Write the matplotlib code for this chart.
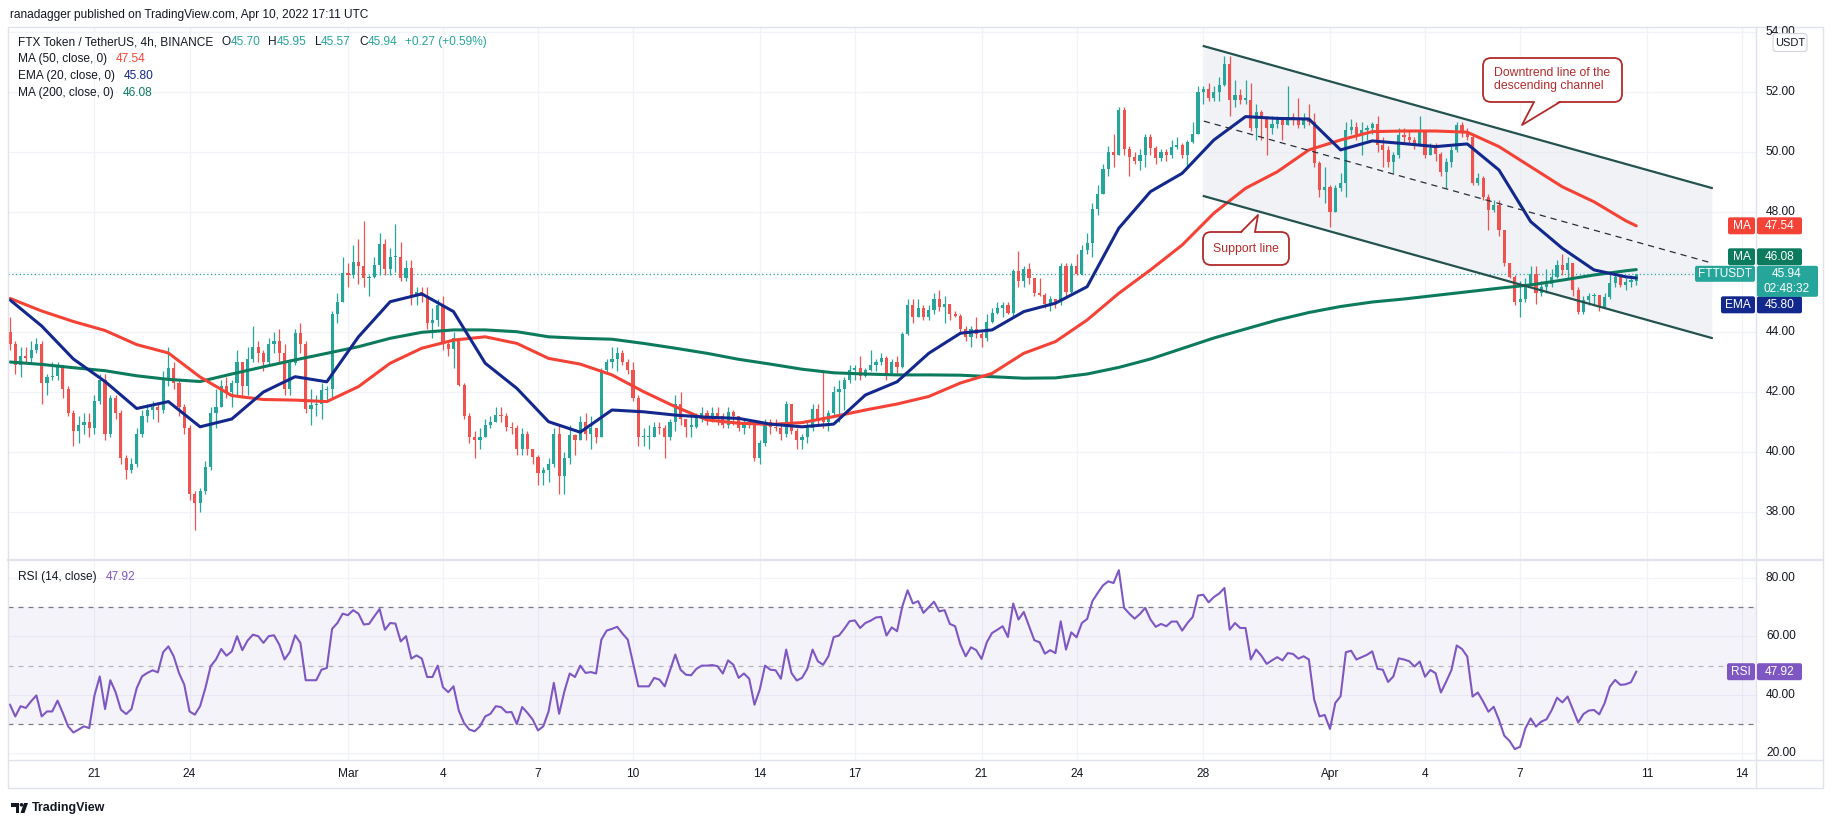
import numpy as np
import matplotlib
matplotlib.use("Agg")
import matplotlib.pyplot as plt
from matplotlib.patches import FancyBboxPatch, Polygon, Rectangle, Circle

plt.rcParams['font.family'] = ['Liberation Sans', 'DejaVu Sans']

W, H = 1834, 823

# ---------------- data (FTT/USDT 4h) ----------------
first_open = 44.0
closes = [
    43.6, 42.9, 43.2, 43.15, 43.4, 43.6, 42.3, 42.5, 42.55, 42.9,
    42.1, 41.3, 40.7, 40.9, 41.0, 40.8, 41.7, 42.4, 40.6, 41.8,
    41.3, 39.8, 39.4, 39.6, 40.6, 41.2, 41.4, 41.5, 41.4, 42.4,
    42.8, 42.3, 41.5, 40.8, 38.6, 38.3, 38.7, 39.5, 41.3, 41.5,
    42.2, 42.0, 42.3, 43.0, 42.2, 43.1, 43.5, 43.3, 43.0, 43.6,
    43.7, 43.3, 42.1, 42.96, 43.96, 43.6, 41.45, 41.57, 41.6, 42.07,
    42.1, 44.6, 45.0, 45.96, 45.9, 46.35, 46.2, 45.8, 45.85, 46.25,
    46.95, 46.1, 46.5, 46.5, 45.8, 46.15, 45.2, 45.35, 45.2, 44.3,
    44.4, 44.9, 43.6, 43.45, 43.8, 42.25, 41.2, 40.5, 40.4, 40.5,
    40.9, 41.0, 41.25, 41.2, 40.85, 40.8, 40.1, 40.6, 40.1, 39.85,
    39.3, 39.4, 39.6, 40.6, 39.2, 39.8, 40.57, 40.4, 41.0, 40.6,
    40.8, 40.5, 42.73, 43.0, 43.1, 43.3, 43.0, 42.75, 41.8, 40.5,
    40.5, 40.5, 40.85, 40.8, 40.5, 41.0, 41.6, 41.1, 40.85, 40.85,
    41.2, 41.3, 41.2, 41.3, 41.2, 40.9, 41.35, 41.2, 40.8, 41.0,
    40.9, 39.8, 40.3, 41.0, 40.85, 40.8, 40.6, 41.6, 40.7, 40.4,
    40.5, 40.8, 41.45, 41.1, 41.0, 41.3, 42.0, 42.1, 42.4, 42.73,
    42.8, 42.55, 42.75, 42.9, 43.0, 43.15, 42.6, 43.0, 42.85, 43.95,
    44.9, 44.5, 44.8, 44.5, 44.75, 45.1, 44.85, 44.95, 44.6, 44.55,
    44.1, 43.85, 44.1, 43.95, 43.8, 44.35, 44.65, 44.8, 44.9, 44.65,
    46.05, 45.7, 46.1, 45.8, 45.3, 45.25, 44.95, 45.1, 45.0, 46.2,
    45.35, 46.2, 45.95, 46.75, 46.98, 48.1, 48.6, 49.45, 50.0, 49.9,
    51.4, 50.1, 49.85, 49.7, 49.9, 50.5, 50.12, 49.79, 50.0, 49.9,
    50.18, 50.25, 49.9, 50.35, 50.6, 52.0, 52.1, 51.8, 52.0, 52.23,
    52.92, 51.73, 51.9, 51.75, 51.75, 50.79, 51.32, 51.12, 50.8, 50.95,
    51.07, 50.9, 51.18, 51.07, 50.9, 51.12, 51.0, 49.62, 48.73, 48.84,
    48.0, 48.79, 48.96, 50.73, 50.84, 50.57, 50.73, 50.8, 50.95, 50.23,
    50.07, 49.68, 49.9, 50.57, 50.5, 50.4, 50.23, 50.68, 49.9, 50.12,
    49.95, 49.34, 49.68, 50.07, 50.9, 50.68, 50.51, 48.96, 49.12, 48.51,
    48.07, 48.23, 47.4, 46.29, 45.84, 45.0, 45.1, 45.6, 45.95, 45.29,
    45.49, 45.6, 45.85, 46.23, 46.07, 46.3, 45.4, 44.68, 45.07, 45.2,
    45.25, 44.84, 45.18, 45.64, 45.84, 45.57, 45.68, 45.70, 45.94,
]
highs = [
    44.5, 43.7, 43.5, 43.5, 43.7, 43.8, 43.7, 42.6, 43.0, 43.0,
    42.9, 42.2, 41.4, 41.2, 41.3, 41.3, 41.9, 42.6, 42.6, 41.9,
    41.9, 41.4, 39.9, 39.8, 40.8, 41.4, 41.6, 41.7, 41.6, 42.7,
    43.5, 43.0, 42.4, 41.6, 40.9, 38.7, 38.8, 39.7, 41.5, 42.1,
    42.4, 42.5, 42.4, 43.4, 43.0, 43.5, 44.2, 43.7, 43.4, 43.8,
    44.0, 44.1, 43.6, 43.1, 44.1, 44.3, 43.7, 42.1, 41.9, 42.3,
    42.2, 44.7, 45.3, 46.5, 46.3, 46.9, 47.1, 47.7, 45.9, 46.5,
    47.3, 47.1, 46.8, 47.6, 47.0, 46.4, 46.4, 45.5, 45.5, 45.5,
    44.8, 45.1, 45.2, 43.7, 44.0, 43.8, 42.3, 41.3, 40.7, 40.8,
    41.1, 41.2, 41.5, 41.5, 41.3, 41.0, 40.9, 40.8, 40.7, 40.1,
    39.9, 39.5, 39.8, 40.8, 40.9, 40.0, 40.9, 40.6, 41.2, 41.3,
    41.2, 40.8, 42.8, 43.1, 43.5, 43.5, 43.4, 43.1, 43.0, 41.9,
    40.8, 40.9, 41.0, 41.0, 40.9, 41.1, 41.9, 42.0, 41.1, 41.2,
    41.3, 41.5, 41.4, 41.5, 41.5, 41.3, 41.5, 41.4, 41.2, 41.1,
    41.1, 41.0, 40.4, 41.1, 41.1, 41.1, 41.0, 41.7, 41.6, 40.8,
    40.6, 41.0, 41.6, 41.6, 42.7, 41.4, 42.2, 42.4, 42.5, 42.9,
    42.9, 43.2, 42.8, 43.4, 43.1, 43.3, 43.2, 43.1, 43.2, 44.0,
    45.1, 45.1, 45.1, 44.9, 44.9, 45.3, 45.4, 45.2, 44.9, 44.7,
    44.6, 44.2, 44.2, 44.5, 44.0, 44.6, 44.8, 45.0, 45.0, 45.0,
    46.1, 46.7, 46.2, 46.3, 45.8, 45.8, 45.3, 45.2, 45.1, 46.3,
    46.3, 46.3, 46.6, 46.9, 47.3, 48.3, 48.9, 49.6, 50.2, 50.6,
    51.5, 51.5, 50.2, 50.0, 50.1, 50.6, 50.6, 50.2, 50.1, 50.1,
    50.4, 50.5, 50.3, 50.4, 51.0, 52.2, 52.2, 52.3, 52.2, 52.5,
    53.2, 53.2, 52.4, 52.1, 52.4, 52.3, 51.6, 51.4, 51.2, 51.2,
    51.2, 51.1, 52.2, 51.3, 51.8, 51.3, 51.6, 51.3, 49.7, 49.5,
    48.9, 48.9, 49.3, 51.0, 51.1, 51.0, 51.0, 50.9, 51.0, 51.2,
    50.5, 50.2, 50.0, 50.8, 50.8, 50.7, 50.5, 51.2, 50.7, 50.3,
    50.3, 50.0, 49.8, 50.2, 51.0, 51.0, 50.8, 50.6, 49.3, 49.2,
    48.6, 48.4, 48.4, 47.4, 46.3, 45.9, 45.7, 45.8, 46.2, 46.2,
    45.7, 46.1, 46.1, 46.4, 46.6, 46.5, 46.3, 45.5, 45.2, 45.3,
    45.3, 45.1, 45.3, 46.0, 46.0, 45.9, 45.8, 45.9, 45.95,
]
lows = [
    43.4, 42.6, 42.5, 43.0, 43.0, 43.3, 41.6, 41.9, 42.4, 42.4,
    41.8, 41.2, 40.2, 40.3, 40.6, 40.5, 40.6, 41.6, 40.4, 40.5,
    41.1, 39.6, 39.1, 39.3, 39.5, 40.5, 41.0, 41.1, 41.0, 41.3,
    42.2, 42.1, 41.2, 40.6, 38.4, 37.4, 38.0, 38.6, 39.4, 40.8,
    41.5, 41.8, 41.5, 41.9, 41.8, 41.9, 43.0, 43.0, 42.7, 42.9,
    43.3, 43.0, 41.9, 41.9, 42.9, 43.3, 41.3, 40.9, 41.2, 41.1,
    41.7, 41.8, 44.3, 45.0, 45.5, 45.8, 45.6, 45.5, 45.2, 45.8,
    45.9, 45.9, 45.9, 46.0, 45.7, 45.7, 44.9, 44.9, 45.0, 44.1,
    43.8, 44.2, 43.4, 43.2, 42.8, 42.2, 41.1, 40.3, 39.8, 40.1,
    40.5, 40.8, 41.0, 41.0, 40.7, 40.6, 39.9, 39.9, 39.9, 39.6,
    38.9, 38.9, 39.0, 39.5, 38.6, 38.6, 39.6, 39.9, 40.5, 40.4,
    40.1, 40.3, 40.5, 42.6, 42.8, 42.7, 42.9, 42.6, 41.7, 40.2,
    40.2, 40.1, 40.5, 40.6, 39.8, 40.4, 40.7, 40.9, 40.5, 40.5,
    40.8, 41.0, 40.9, 41.0, 40.9, 40.8, 40.8, 40.9, 40.7, 40.6,
    40.8, 39.7, 39.6, 40.2, 40.6, 40.7, 40.4, 40.5, 40.6, 40.1,
    40.1, 40.3, 40.7, 40.9, 40.8, 40.7, 41.2, 41.0, 41.4, 42.3,
    42.4, 42.4, 42.5, 42.7, 42.7, 42.9, 42.4, 42.6, 42.6, 42.8,
    43.9, 44.3, 44.5, 44.4, 44.4, 44.6, 44.7, 44.3, 44.4, 44.5,
    44.0, 43.7, 43.5, 43.8, 43.5, 43.7, 44.3, 44.6, 44.5, 44.6,
    44.5, 45.5, 45.5, 45.6, 45.2, 45.2, 44.8, 44.7, 44.8, 44.9,
    45.2, 45.3, 45.9, 45.9, 46.6, 46.5, 47.9, 48.6, 49.2, 49.5,
    49.9, 49.9, 49.2, 49.6, 49.4, 49.5, 49.9, 49.6, 49.7, 49.7,
    49.8, 50.1, 49.8, 49.5, 50.3, 50.6, 51.6, 51.7, 51.7, 51.7,
    52.2, 51.2, 51.5, 51.6, 51.6, 50.7, 50.4, 50.4, 49.9, 50.6,
    50.8, 50.4, 50.9, 50.9, 50.8, 50.8, 50.9, 49.5, 48.5, 48.3,
    47.5, 48.0, 48.7, 48.5, 50.6, 50.4, 49.9, 50.4, 50.6, 50.0,
    49.5, 49.5, 49.3, 49.8, 50.3, 50.3, 50.1, 50.2, 49.8, 49.9,
    49.7, 49.2, 48.8, 49.5, 50.0, 50.5, 50.4, 48.9, 48.9, 48.4,
    47.4, 48.0, 47.2, 46.2, 45.8, 44.9, 44.5, 45.0, 45.6, 44.95,
    45.2, 45.3, 45.5, 45.8, 45.9, 45.8, 45.2, 44.6, 44.6, 44.9,
    44.9, 44.7, 44.8, 45.1, 45.5, 45.5, 45.4, 45.5, 45.57,
]

# moving averages, read every 6 bars (one per day) plus the last bar
ma_bars = list(range(0, 307, 6)) + [308]
ema20 = [
    45.07, 44.2, 43.1, 42.35, 41.45, 41.68, 40.84, 41.1, 42.0,
    42.51, 42.34, 43.84, 45.01, 45.27, 44.68, 42.96, 42.12, 41.01,
    40.66, 41.4, 41.34, 41.23, 41.16, 41.12, 40.93, 40.84, 40.93,
    41.9, 42.34, 43.29, 43.96, 44.07, 44.68, 44.96, 45.51, 47.46,
    48.68, 49.29, 50.4, 51.18, 51.12, 51.1, 50.07, 50.37, 50.28,
    50.18, 50.27, 49.4, 47.68, 46.79, 46.07, 45.84, 45.80,
]
ma50 = [
    45.12, 44.7, 44.35, 44.05, 43.58, 43.3, 42.5, 41.88, 41.75,
    41.73, 41.68, 42.18, 42.96, 43.46, 43.73, 43.84, 43.62, 43.12,
    42.93, 42.57, 42.01, 41.51, 41.07, 40.96, 40.92, 40.98, 41.18,
    41.4, 41.6, 41.85, 42.3, 42.62, 43.29, 43.68, 44.4, 45.29,
    46.07, 46.9, 47.96, 48.79, 49.34, 50.07, 50.4, 50.68, 50.7,
    50.7, 50.66, 50.18, 49.51, 48.84, 48.34, 47.71, 47.54,
]
ma200 = [
    43.0, 42.92, 42.81, 42.71, 42.54, 42.42, 42.35, 42.6, 42.84,
    43.07, 43.29, 43.51, 43.79, 43.99, 44.07, 44.07, 44.01, 43.84,
    43.79, 43.76, 43.62, 43.46, 43.29, 43.09, 42.93, 42.76, 42.64,
    42.6, 42.57, 42.57, 42.56, 42.51, 42.46, 42.47, 42.6, 42.82,
    43.1, 43.45, 43.8, 44.1, 44.4, 44.65, 44.85, 45.0, 45.1,
    45.22, 45.34, 45.46, 45.57, 45.73, 45.9, 46.04, 46.08,
]
rsi = [
    36.6, 32.6, 36.1, 35.5, 37.8, 39.8, 32.6, 34.3, 34.3, 38.0,
    33.8, 29.2, 27.1, 28.1, 29.2, 28.6, 39.8, 46.3, 35.1, 45.0,
    40.9, 34.9, 33.4, 35.1, 42.3, 46.3, 47.5, 48.4, 47.7, 54.6,
    56.6, 53.2, 47.5, 43.5, 34.3, 33.2, 36.1, 42.3, 49.8, 52.1,
    55.7, 53.4, 54.9, 60.1, 55.3, 58.6, 60.6, 60.1, 57.8, 60.1,
    60.4, 57.2, 52.1, 54.7, 60.4, 57.8, 45.0, 45.0, 45.0, 48.6,
    49.2, 62.6, 64.6, 67.8, 67.3, 69.0, 67.8, 64.1, 64.3, 66.9,
    69.4, 62.3, 64.6, 64.4, 58.3, 60.1, 52.4, 53.5, 52.4, 46.1,
    46.1, 50.0, 42.6, 40.9, 42.9, 34.6, 30.3, 28.1, 27.5, 29.2,
    32.6, 33.5, 36.1, 35.8, 34.0, 34.1, 30.0, 35.8, 33.8, 31.5,
    27.8, 29.2, 34.3, 44.1, 33.5, 41.2, 47.3, 46.1, 50.0, 47.5,
    47.8, 47.3, 58.9, 62.0, 62.6, 63.3, 61.0, 58.9, 50.9, 42.9,
    42.9, 42.9, 45.8, 45.2, 42.9, 48.3, 53.8, 48.6, 46.9, 46.7,
    48.9, 50.0, 50.0, 50.2, 49.8, 47.3, 51.8, 50.3, 45.8, 47.3,
    45.5, 36.6, 41.8, 50.0, 48.6, 48.4, 45.5, 55.5, 47.5, 44.9,
    45.8, 48.9, 55.5, 51.5, 50.3, 53.2, 59.8, 60.3, 62.6, 65.2,
    65.5, 62.9, 64.6, 65.4, 66.5, 66.7, 60.3, 63.1, 61.8, 70.3,
    75.8, 71.3, 72.1, 68.1, 70.0, 71.9, 68.6, 69.0, 64.3, 63.5,
    57.2, 53.2, 56.3, 55.3, 52.3, 58.0, 61.2, 62.3, 63.5, 59.8,
    71.3, 65.8, 68.4, 63.5, 58.7, 58.0, 54.1, 55.3, 54.3, 65.2,
    55.5, 61.4, 59.7, 64.6, 66.0, 72.1, 74.9, 77.5, 78.9, 78.3,
    82.7, 69.8, 67.8, 66.1, 67.7, 69.8, 65.8, 63.3, 64.3, 63.5,
    65.1, 65.1, 62.0, 64.6, 66.7, 74.0, 74.3, 71.7, 73.5, 74.7,
    76.6, 62.3, 64.6, 62.9, 62.9, 52.1, 55.5, 53.4, 50.6, 51.8,
    52.9, 51.8, 54.3, 54.0, 52.4, 53.2, 52.1, 38.4, 32.6, 33.1,
    28.3, 37.2, 39.5, 54.6, 55.1, 52.1, 52.9, 53.7, 54.9, 48.9,
    48.6, 44.4, 46.3, 52.5, 52.1, 51.5, 49.7, 51.4, 46.2, 48.5,
    47.4, 40.8, 44.5, 48.5, 56.9, 55.7, 53.1, 39.4, 40.8, 37.7,
    34.2, 35.9, 31.4, 26.0, 24.2, 21.4, 22.2, 28.5, 31.9, 29.1,
    30.8, 31.6, 34.8, 39.0, 37.4, 39.4, 35.0, 30.5, 33.4, 34.6,
    34.8, 33.3, 37.1, 42.8, 45.1, 43.4, 43.6, 44.3, 47.92,
]

date_bars = [16, 34, 64, 82, 100, 118, 142, 160, 184, 202, 226, 250, 268, 286, 310, 328]
date_labels = ['21', '24', 'Mar', '4', '7', '10', '14', '17', '21', '24', '28',
               'Apr', '4', '7', '11', '14']
price_ticks = [38, 40, 42, 44, 46, 48, 50, 52, 54]
rsi_ticks = [20, 40, 60, 80]

# descending channel drawing (bar index, price)
channel_bars = [226.1, 322.3]
channel_top = [53.53, 48.8]
channel_mid = [51.03, 46.3]
channel_bot = [48.53, 43.8]

header = 'ranadagger published on TradingView.com, Apr 10, 2022 17:11 UTC'
symbol = 'FTX Token / TetherUS, 4h, BINANCE'
ohlc = [('O', '45.70'), ('H', '45.95'), ('L', '45.57'), ('C', '45.94')]
change = '+0.27 (+0.59%)'
countdown = '02:48:32'

# ---------------- colours ----------------
GREEN = '#26a69a'
RED = '#ef5350'
C_MA50 = '#f44336'
C_EMA = '#13288c'
C_MA200 = '#0c7b5d'
C_RSI = '#7e57c2'
GRID = '#f0f3fa'
BORDER = '#e0e3eb'
TXT = '#131722'
CALL = '#b22b2b'

fig = plt.figure(figsize=(W / 100, H / 100), dpi=100)
fig.patch.set_facecolor('white')


def frac(x0, y0, x1, y1):
    return [x0 / W, 1 - y1 / H, (x1 - x0) / W, (y1 - y0) / H]


ax = fig.add_axes(frac(8, 27, 1756, 560))
ax2 = fig.add_axes(frac(8, 560, 1756, 760))
for a in (ax, ax2):
    a.set_xlim(-0.38, 330.68)
    a.axis('off')
    for b in date_bars:
        a.axvline(b, color=GRID, lw=0.9, zorder=0)
ax.set_ylim(36.4, 54.167)
ax2.set_ylim(17.66, 86.2)
for p in price_ticks:
    ax.axhline(p, color=GRID, lw=0.9, zorder=0)
for r in rsi_ticks:
    ax2.axhline(r, color=GRID, lw=0.9, zorder=0)

# channel
cx = np.array(channel_bars)
ax.fill_between(cx, channel_bot, channel_top, color='#dfe4ec', alpha=0.45, lw=0, zorder=1)

# candles
c = np.array(closes)
o = np.array([first_open] + closes[:-1])
hi = np.maximum(np.array(highs), np.maximum(o, c))
lo = np.minimum(np.array(lows), np.minimum(o, c))
x = np.arange(len(c))
cols = np.where(c >= o, GREEN, RED)
ax.vlines(x, lo, hi, colors=cols, lw=0.9, zorder=3)
ax.bar(x, np.maximum(np.abs(c - o), 0.04), bottom=np.minimum(o, c), width=0.6,
       color=cols, lw=0, zorder=3)

# moving averages
ax.plot(ma_bars, ma200, color=C_MA200, lw=2.2, zorder=4, solid_capstyle='round')
ax.plot(ma_bars, ma50, color=C_MA50, lw=2.2, zorder=4, solid_capstyle='round')
ax.plot(ma_bars, ema20, color=C_EMA, lw=2.2, zorder=4, solid_capstyle='round')

ax.plot(cx, channel_top, color='#24524e', lw=1.6, zorder=5)
ax.plot(cx, channel_bot, color='#24524e', lw=1.6, zorder=5)
ax.plot(cx, channel_mid, color='#2a2e39', lw=0.9, ls=(0, (5, 4)), zorder=5)

ax.axhline(closes[-1], color=GREEN, lw=0.9, ls=(0, (1, 2)), zorder=2)

# RSI pane
ax2.axhspan(30, 70, color=C_RSI, alpha=0.07, lw=0, zorder=1)
for lvl, al in ((70, 1.0), (50, 0.5), (30, 1.0)):
    ax2.axhline(lvl, color='#787b86', alpha=al, lw=0.9, ls=(0, (4, 4)), zorder=2)
ax2.plot(np.arange(len(rsi)), rsi, color=C_RSI, lw=1.5, zorder=4)

# ---------------- overlay in pixel space ----------------
ov = fig.add_axes([0, 0, 1, 1], zorder=10)
ov.set_xlim(0, W)
ov.set_ylim(H, 0)
ov.axis('off')
renderer = fig.canvas.get_renderer()


def ypx(a, v):
    return H - a.transData.transform((0, v))[1]


def xpx(a, b):
    return a.transData.transform((b, 0))[0]


# frame
ov.add_patch(Rectangle((8, 27), 1815, 761, fill=False, ec=BORDER, lw=1.0, zorder=1))
ov.plot([1756, 1756], [27, 788], color=BORDER, lw=1.0, zorder=1)
ov.plot([8, 1823], [560, 560], color=BORDER, lw=1.6, zorder=1)
ov.plot([8, 1823], [760, 760], color=BORDER, lw=1.0, zorder=1)

FS = 8.6


def box(x0, y0, w, h, color):
    ov.add_patch(FancyBboxPatch((x0, y0), w, h, boxstyle='round,pad=0,rounding_size=2',
                                fc=color, ec='none', zorder=5))


covered = []  # vertical spans of the price-scale tags (tick labels hidden beneath them)


def tag(yc, left, val, color, lx0, vx1=1802):
    box(lx0, yc - 8.5, 1755 - lx0, 17, color)
    box(1757, yc - 8.5, vx1 - 1757, 17, color)
    covered.append((yc - 8.5, yc + 8.5))
    ov.text((lx0 + 1755) / 2, yc + 0.5, left, ha='center', va='center', fontsize=FS,
            color='white', zorder=6)
    ov.text((1757 + vx1) / 2, yc + 0.5, val, ha='center', va='center', fontsize=FS,
            color='white', zorder=6)


y_ftt = ypx(ax, closes[-1])
tag(ypx(ax, ma50[-1]), 'MA', f'{ma50[-1]:.2f}', C_MA50, 1728)
tag(y_ftt - 17, 'MA', f'{ma200[-1]:.2f}', C_MA200, 1728)
tag(y_ftt + 31, 'EMA', f'{ema20[-1]:.2f}', C_EMA, 1721)
box(1695, y_ftt - 8, 60, 16, GREEN)
box(1757, y_ftt - 8, 61, 31, GREEN)
covered.append((y_ftt - 8, y_ftt + 23))
ov.text(1725, y_ftt + 0.5, 'FTTUSDT', ha='center', va='center', fontsize=FS, color='white', zorder=6)
ov.text(1787, y_ftt + 0.5, f'{closes[-1]:.2f}', ha='center', va='center', fontsize=FS,
        color='white', zorder=6)
ov.text(1787, y_ftt + 15, countdown, ha='center', va='center', fontsize=FS, color='white', zorder=6)
y_rsi = ypx(ax2, rsi[-1])
tag(y_rsi, 'RSI', f'{rsi[-1]:.2f}', C_RSI, 1727)


def hidden(y):
    return any(y0 - 2 <= y <= y1 + 2 for y0, y1 in covered)


for p in price_ticks:
    yy = ypx(ax, p)
    if not hidden(yy):
        ov.text(1766, yy, f'{p:.2f}', va='center', ha='left', fontsize=FS, color=TXT, zorder=2)
for r in rsi_ticks:
    yy = ypx(ax2, r)
    if not hidden(yy):
        ov.text(1766, yy, f'{r:.2f}', va='center', ha='left', fontsize=FS, color=TXT, zorder=2)
for b, lab in zip(date_bars, date_labels):
    ov.text(xpx(ax, b), 774, lab, va='center', ha='center', fontsize=FS, color=TXT, zorder=2)

ov.add_patch(FancyBboxPatch((1773, 33.5), 34, 18, boxstyle='round,pad=0,rounding_size=3',
                            fc='white', ec='#d1d4dc', lw=0.8, zorder=5))
ov.text(1790, 42.8, 'USDT', ha='center', va='center', fontsize=8, color=TXT, zorder=6)


def runs(x0, y, parts):
    xx = x0
    for s, col, g in parts:
        t = ov.text(xx, y, s, color=col, fontsize=FS, va='center', ha='left', zorder=6)
        xx += t.get_window_extent(renderer=renderer).width + g


ov.text(10, 15, header, fontsize=FS, va='center', ha='left', color=TXT)
parts = [(symbol, TXT, 8)]
for k, v in ohlc:
    parts += [(k, TXT, 0), (v, GREEN, 8)]
parts.append((change, GREEN, 0))
runs(18, 42, parts)
runs(18, 59, [('MA (50, close, 0)', TXT, 9), (f'{ma50[-1]:.2f}', C_MA50, 0)])
runs(18, 76, [('EMA (20, close, 0)', TXT, 9), (f'{ema20[-1]:.2f}', C_EMA, 0)])
runs(18, 92.5, [('MA (200, close, 0)', TXT, 9), (f'{ma200[-1]:.2f}', C_MA200, 0)])
runs(18, 577, [('RSI (14, close)', TXT, 9), (f'{rsi[-1]:.2f}', C_RSI, 0)])


def callout(x0, y0, x1, y1, bx0, bx1, base_y, inner, tip, lines, tx, ty):
    ov.add_patch(FancyBboxPatch((x0, y0), x1 - x0, y1 - y0,
                                boxstyle='round,pad=0,rounding_size=8',
                                fc='white', ec=CALL, lw=1.3, zorder=11))
    ov.add_patch(Polygon([(bx0, base_y + inner), tip, (bx1, base_y + inner)], closed=True,
                         fc='white', ec='none', zorder=12))
    ov.plot([bx0, tip[0], bx1], [base_y, tip[1], base_y], color=CALL, lw=1.3, zorder=13)
    for i, s in enumerate(lines):
        ov.text(tx, ty + i * 13, s, color=CALL, fontsize=8.8, va='center', ha='left', zorder=14)


callout(1203, 232, 1289, 265, 1241, 1255, 232, 1.6, (1258, 215), ['Support line'], 1213, 249)
callout(1483, 58, 1622, 102, 1534, 1560, 102, -1.6, (1522, 125),
        ['Downtrend line of the', 'descending channel'], 1494, 73)

# TradingView mark, bottom left
ov.add_patch(Polygon([(11, 803), (19, 803), (19, 813), (15.5, 813), (15.5, 806.5), (11, 806.5)],
                     closed=True, fc=TXT, ec='none'))
ov.add_patch(Circle((21.5, 804.8), 1.8, fc=TXT, ec='none'))
ov.add_patch(Polygon([(24, 803), (28, 803), (24.5, 813), (20.5, 813)], closed=True, fc=TXT, ec='none'))
ov.text(32, 808, 'TradingView', fontsize=9, fontweight='bold', color=TXT, va='center', ha='left')

fig.savefig('out.png', dpi=100, facecolor='white')
